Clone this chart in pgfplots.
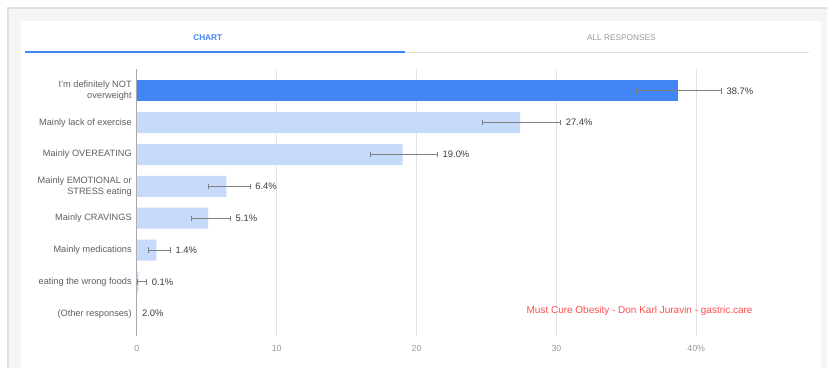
\documentclass[border=0pt]{standalone}
\usepackage{pgfplots}
\usepackage{pgfplotstable}
\pgfplotsset{compat=1.18}
\usepackage{fontspec}
\setmainfont{Liberation Sans}
\definecolor{gblue}{HTML}{4285F4}
\definecolor{lblue}{HTML}{C6DAFC}
\definecolor{gridc}{HTML}{E3E3E3}
\definecolor{zeroc}{HTML}{A8A8A8}
\definecolor{labc}{HTML}{5F5F5F}
\definecolor{tickc}{HTML}{9A9A9A}
\definecolor{valc}{HTML}{3C3C3C}
\definecolor{errc}{HTML}{808080}
\definecolor{bgc}{HTML}{F5F5F5}
\definecolor{bordc}{HTML}{E0E0E0}
\definecolor{wmc}{HTML}{FF4D4D}

\pgfplotstableread{
pos val ep em lab
0 38.7 3.1 3.0 38.7\%
}\topdata
\pgfplotstableread{
pos val ep em lab
1 27.4 2.9 2.7 27.4\%
2 19.0 2.5 2.3 19.0\%
3 6.4 1.7 1.3 6.4\%
4 5.1 1.6 1.2 5.1\%
5 1.4 1.0 0.57 1.4\%
6 0.1 0.6 0.03 0.1\%
}\restdata
\pgfplotstableread{
pos val ep em lab
7 0.0 0.0 0.0 2.0\%
}\otherdata

\begin{document}
\begin{tikzpicture}[x=1bp,y=1bp]
% background and card
\fill[white] (0,0) rectangle (828,-368);
\fill[bgc] (7,-7) rectangle (828,-368);
\draw[bordc,line width=1.8bp] (7.9,-368) -- (7.9,-7.9) -- (828,-7.9);
\fill[white] (21,-21) rectangle (822,-368);
% tabs
\node[font=\fontsize{8.3bp}{10bp}\selectfont\bfseries,text=gblue] at (208,-38) {CHART};
\node[font=\fontsize{8.3bp}{10bp}\selectfont,text=tickc] at (622,-38) {ALL RESPONSES};
\draw[bordc,line width=1bp] (405,-52.8) -- (810,-52.8);
\draw[gblue,line width=2bp] (25,-52.3) -- (405,-52.3);

\begin{axis}[
  at={(137bp,-336.3bp)}, anchor=south west,
  scale only axis, width=616bp, height=267.6bp,
  xmin=0, xmax=44, ymin=-0.7, ymax=7.7, y dir=reverse,
  axis line style={draw=none},
  major tick length=0pt,
  /pgf/number format/assume math mode=true,
  xtick={0,10,20,30,40}, xticklabels={0,10,20,30,40\%},
  xmajorgrids, grid style={gridc,line width=0.8bp},
  extra x ticks={0}, extra x tick labels={},
  extra x tick style={grid style={zeroc,line width=0.9bp}},
  xticklabel style={font=\fontsize{8.8bp}{10bp}\selectfont, text=tickc, anchor=center, inner sep=0pt, yshift=-12.7bp},
  ytick={0,1,2,3,4,5,6,7},
  yticklabels={{I'm definitely NOT\\overweight},{Mainly lack of exercise},{Mainly OVEREATING},{Mainly EMOTIONAL or\\STRESS eating},{Mainly CRAVINGS},{Mainly medications},{eating the wrong foods},{(Other responses)}},
  yticklabel style={font=\fontsize{9.2bp}{10.7bp}\selectfont, text=labc, align=right, anchor=east, inner sep=0pt, xshift=-5bp},
  clip=false,
]
\addplot[xbar, bar shift=0pt, bar width=21bp, fill=gblue, draw=none,
  error bars/.cd, x dir=both, x explicit, error mark=|,
  error bar style={draw=errc,line width=0.9bp},
  error mark options={draw=errc,line width=0.9bp,mark size=2.7bp}]
  table[x=val,y=pos,x error plus=ep,x error minus=em]{\topdata};
\addplot[xbar, bar shift=0pt, bar width=21bp, fill=lblue, draw=none,
  error bars/.cd, x dir=both, x explicit, error mark=|,
  error bar style={draw=errc,line width=0.9bp},
  error mark options={draw=errc,line width=0.9bp,mark size=2.7bp}]
  table[x=val,y=pos,x error plus=ep,x error minus=em]{\restdata};
\addplot[xbar, bar shift=0pt, bar width=21bp, fill=lblue, draw=none]
  table[x=val,y=pos]{\otherdata};
\addplot[draw=none, mark=none, nodes near coords, point meta=explicit symbolic,
  nodes near coords style={anchor=west, inner sep=0pt, xshift=5bp, text=valc, font=\fontsize{9.4bp}{10bp}\selectfont}]
  table[x expr=\thisrow{val}+\thisrow{ep}, y=pos, meta=lab]{\topdata};
\addplot[draw=none, mark=none, nodes near coords, point meta=explicit symbolic,
  nodes near coords style={anchor=west, inner sep=0pt, xshift=5bp, text=valc, font=\fontsize{9.4bp}{10bp}\selectfont}]
  table[x expr=\thisrow{val}+\thisrow{ep}, y=pos, meta=lab]{\restdata};
\addplot[draw=none, mark=none, nodes near coords, point meta=explicit symbolic,
  nodes near coords style={anchor=west, inner sep=0pt, xshift=5bp, text=valc, font=\fontsize{9.4bp}{10bp}\selectfont}]
  table[x expr=\thisrow{val}+\thisrow{ep}, y=pos, meta=lab]{\otherdata};
\end{axis}
\node[anchor=west, inner sep=0pt, text=wmc, font=\fontsize{10bp}{12bp}\selectfont] at (527,-311) {Must Cure Obesity - Don Karl Juravin - gastric.care};
\end{tikzpicture}
\end{document}
